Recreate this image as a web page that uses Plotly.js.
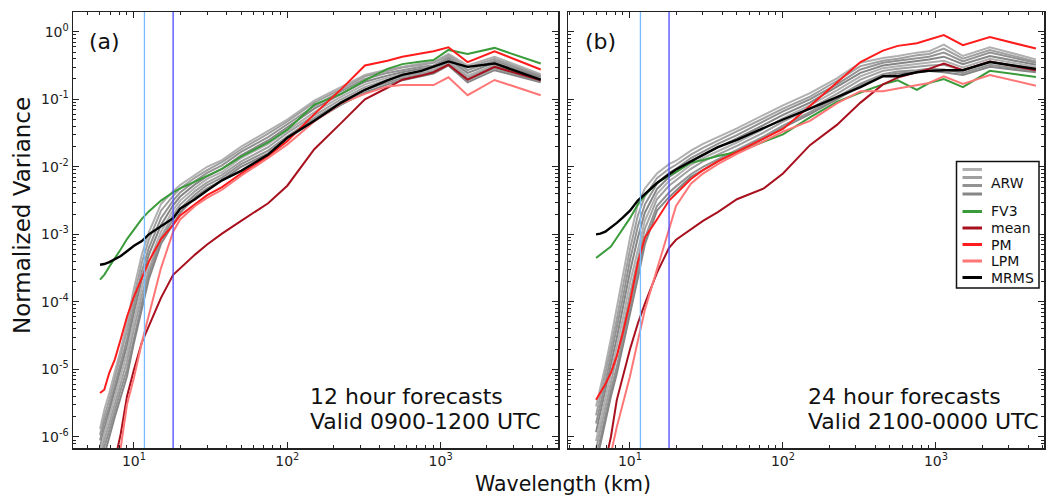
<!DOCTYPE html>
<html><head><meta charset="utf-8">
<script src="https://cdn.plot.ly/plotly-3.0.1.min.js"></script>
<style>html,body{margin:0;padding:0;background:#fff}#chart{width:1048px;height:498px}</style>
</head><body><div id="chart"></div>
<script>
// ---------------- DATA (values are log10 of normalized variance) ----------------
const wavelengthKm = [6, 6.4, 6.9, 7.5, 8.2, 9, 10, 11.25, 12.5, 15, 18, 20, 25, 30, 37.5, 50, 75, 100, 150, 225, 321, 450, 563, 750, 900, 1125, 1500, 2250, 4500];
const refScalesKm = [11.7, 18];
const panelLabels = ['(a)', '(b)'];
const panelText = [['12 hour forecasts', 'Valid 0900-1200 UTC'], ['24 hour forecasts', 'Valid 2100-0000 UTC']];
const legendNames = ['ARW', 'FV3', 'mean', 'PM', 'LPM', 'MRMS'];
const yTickExp = [-6, -5, -4, -3, -2, -1, 0];
const xTickExp = [1, 2, 3];

// Panel (a): 12 h forecasts
const arwA = [
  [-5.88,-5.60,-5.35,-5.05,-4.70,-4.30,-3.80,-3.30,-2.97,-2.55,-2.36,-2.27,-2.12,-2.00,-1.90,-1.70,-1.47,-1.30,-1.02,-0.82,-0.64,-0.56,-0.52,-0.47,-0.45,-0.33,-0.50,-0.37,-0.63],
  [-5.97,-5.70,-5.45,-5.13,-4.80,-4.42,-3.92,-3.42,-3.08,-2.65,-2.43,-2.32,-2.16,-2.05,-1.93,-1.74,-1.51,-1.33,-1.05,-0.85,-0.66,-0.58,-0.53,-0.49,-0.46,-0.35,-0.53,-0.40,-0.65],
  [-6.05,-5.78,-5.55,-5.25,-4.90,-4.55,-4.05,-3.55,-3.20,-2.76,-2.50,-2.38,-2.21,-2.09,-1.98,-1.78,-1.56,-1.37,-1.10,-0.88,-0.70,-0.61,-0.57,-0.52,-0.50,-0.38,-0.57,-0.43,-0.66],
  [-6.15,-5.88,-5.62,-5.32,-5.00,-4.65,-4.16,-3.66,-3.30,-2.86,-2.57,-2.44,-2.26,-2.14,-2.03,-1.83,-1.61,-1.42,-1.14,-0.92,-0.74,-0.65,-0.60,-0.55,-0.53,-0.41,-0.61,-0.46,-0.68],
  [-6.22,-5.95,-5.70,-5.40,-5.10,-4.76,-4.28,-3.78,-3.42,-2.96,-2.64,-2.50,-2.31,-2.18,-2.08,-1.87,-1.66,-1.46,-1.19,-0.96,-0.78,-0.68,-0.63,-0.58,-0.56,-0.43,-0.65,-0.49,-0.70],
  [-6.32,-6.05,-5.80,-5.50,-5.20,-4.88,-4.40,-3.90,-3.52,-3.04,-2.71,-2.56,-2.36,-2.23,-2.12,-1.92,-1.71,-1.50,-1.24,-1.00,-0.82,-0.71,-0.66,-0.61,-0.58,-0.45,-0.68,-0.51,-0.72],
  [-6.42,-6.15,-5.90,-5.60,-5.30,-5.00,-4.52,-4.02,-3.60,-3.08,-2.78,-2.62,-2.41,-2.27,-2.16,-1.96,-1.76,-1.55,-1.28,-1.04,-0.86,-0.75,-0.69,-0.64,-0.60,-0.48,-0.72,-0.54,-0.73],
  [-6.50,-6.25,-6.00,-5.70,-5.40,-5.10,-4.60,-4.10,-3.66,-3.14,-2.85,-2.68,-2.45,-2.32,-2.20,-2.00,-1.80,-1.58,-1.32,-1.08,-0.90,-0.78,-0.72,-0.66,-0.62,-0.50,-0.75,-0.57,-0.75]
];
const fv3A  = [-3.67,-3.60,-3.48,-3.36,-3.22,-3.07,-2.92,-2.77,-2.66,-2.50,-2.38,-2.32,-2.22,-2.13,-2.03,-1.85,-1.64,-1.45,-1.08,-0.92,-0.72,-0.55,-0.48,-0.44,-0.42,-0.27,-0.33,-0.24,-0.47];
const meanA = [-7.20,-6.90,-6.60,-6.35,-5.95,-5.40,-5.00,-4.60,-4.35,-3.94,-3.60,-3.50,-3.30,-3.15,-2.99,-2.80,-2.54,-2.28,-1.74,-1.35,-1.00,-0.83,-0.71,-0.65,-0.60,-0.49,-0.71,-0.52,-0.72];
const pmA   = [-5.35,-5.30,-5.05,-4.85,-4.55,-4.22,-3.92,-3.64,-3.40,-3.07,-2.86,-2.72,-2.55,-2.42,-2.30,-2.10,-1.84,-1.62,-1.22,-0.85,-0.50,-0.43,-0.37,-0.32,-0.29,-0.23,-0.45,-0.29,-0.56];
const lpmA  = [-7.50,-7.20,-6.90,-6.60,-6.15,-5.52,-5.12,-4.60,-4.20,-3.50,-2.96,-2.78,-2.58,-2.46,-2.34,-2.13,-1.87,-1.67,-1.33,-1.06,-0.92,-0.81,-0.79,-0.79,-0.79,-0.675,-0.94,-0.715,-0.94];
const mrmsA = [-3.45,-3.44,-3.41,-3.37,-3.32,-3.25,-3.17,-3.10,-3.00,-2.88,-2.76,-2.62,-2.48,-2.35,-2.20,-2.06,-1.82,-1.57,-1.32,-1.05,-0.86,-0.72,-0.64,-0.58,-0.52,-0.44,-0.52,-0.47,-0.71];

// Panel (b): 24 h forecasts
const arwB = [
  [-5.55,-5.28,-4.95,-4.55,-4.10,-3.62,-3.05,-2.55,-2.32,-2.10,-1.96,-1.91,-1.76,-1.66,-1.56,-1.43,-1.23,-1.09,-0.91,-0.69,-0.46,-0.39,-0.36,-0.31,-0.29,-0.19,-0.36,-0.23,-0.41],
  [-5.68,-5.40,-5.07,-4.68,-4.25,-3.78,-3.22,-2.72,-2.44,-2.17,-2.03,-1.97,-1.82,-1.72,-1.61,-1.48,-1.28,-1.14,-0.96,-0.73,-0.51,-0.43,-0.40,-0.35,-0.33,-0.25,-0.40,-0.27,-0.44],
  [-5.80,-5.53,-5.19,-4.80,-4.39,-3.93,-3.38,-2.88,-2.56,-2.25,-2.09,-2.03,-1.87,-1.77,-1.66,-1.53,-1.33,-1.18,-1.00,-0.78,-0.56,-0.46,-0.43,-0.39,-0.37,-0.31,-0.44,-0.31,-0.46],
  [-5.93,-5.65,-5.31,-4.93,-4.53,-4.08,-3.55,-3.05,-2.68,-2.33,-2.15,-2.08,-1.92,-1.82,-1.72,-1.58,-1.38,-1.23,-1.05,-0.82,-0.61,-0.50,-0.47,-0.44,-0.41,-0.37,-0.48,-0.36,-0.49],
  [-6.06,-5.77,-5.43,-5.06,-4.68,-4.24,-3.72,-3.21,-2.80,-2.40,-2.21,-2.14,-1.97,-1.87,-1.77,-1.64,-1.44,-1.28,-1.09,-0.87,-0.66,-0.54,-0.51,-0.48,-0.46,-0.43,-0.53,-0.40,-0.52],
  [-6.18,-5.90,-5.55,-5.18,-4.82,-4.39,-3.88,-3.38,-2.92,-2.48,-2.28,-2.20,-2.03,-1.92,-1.82,-1.69,-1.49,-1.33,-1.14,-0.92,-0.71,-0.58,-0.55,-0.52,-0.50,-0.49,-0.57,-0.44,-0.55],
  [-6.32,-6.02,-5.68,-5.31,-4.96,-4.55,-4.05,-3.55,-3.06,-2.58,-2.38,-2.29,-2.11,-2.00,-1.89,-1.75,-1.55,-1.39,-1.19,-0.97,-0.77,-0.63,-0.59,-0.57,-0.55,-0.56,-0.61,-0.49,-0.58],
  [-6.40,-6.10,-5.75,-5.40,-5.06,-4.65,-4.15,-3.65,-3.15,-2.65,-2.45,-2.35,-2.15,-2.05,-1.92,-1.78,-1.58,-1.42,-1.22,-1.00,-0.80,-0.66,-0.62,-0.60,-0.58,-0.60,-0.64,-0.52,-0.60]
];
const fv3B  = [-3.35,-3.30,-3.25,-3.18,-3.05,-2.92,-2.76,-2.56,-2.42,-2.24,-2.13,-2.08,-1.94,-1.90,-1.84,-1.78,-1.63,-1.52,-1.27,-1.04,-0.90,-0.78,-0.72,-0.86,-0.76,-0.70,-0.82,-0.58,-0.67];
const meanB = [-7.00,-6.70,-6.35,-6.00,-5.45,-5.08,-4.70,-4.32,-4.03,-3.57,-3.20,-3.08,-2.92,-2.80,-2.67,-2.48,-2.32,-2.10,-1.68,-1.38,-1.05,-0.78,-0.68,-0.60,-0.55,-0.47,-0.57,-0.44,-0.57];
const pmB   = [-5.45,-5.35,-5.22,-5.05,-4.80,-4.45,-4.00,-3.42,-3.05,-2.78,-2.50,-2.40,-2.18,-2.05,-1.92,-1.78,-1.58,-1.44,-1.10,-0.75,-0.45,-0.28,-0.21,-0.17,-0.12,-0.05,-0.20,-0.08,-0.25];
const lpmB  = [-7.30,-7.00,-6.70,-6.25,-5.85,-5.50,-5.10,-4.58,-4.12,-3.52,-2.90,-2.58,-2.25,-2.10,-1.96,-1.81,-1.62,-1.48,-1.32,-1.06,-0.88,-0.88,-0.84,-0.79,-0.76,-0.66,-0.775,-0.64,-0.80];
const mrmsB = [-3.00,-2.99,-2.96,-2.90,-2.83,-2.75,-2.65,-2.50,-2.40,-2.24,-2.11,-2.04,-1.92,-1.82,-1.71,-1.60,-1.42,-1.30,-1.14,-0.97,-0.82,-0.66,-0.66,-0.60,-0.58,-0.57,-0.57,-0.45,-0.55];

// ---------------- STYLE ----------------
const FONT = 'DejaVu Sans, Bitstream Vera Sans, sans-serif';
const grayShades = ['#b0b0b0', '#a0a0a0', '#939393', '#868686'];
const colFV3 = '#3a9b3a', colMean = '#a8101e', colPM = '#ff1c1c', colLPM = '#ff7676', colMRMS = '#000000';
const colRef = ['#78bcff', '#4b4bff'];
const W = 1048, H = 498;
const px = v => v / W, py = v => 1 - v / H;

const pow10 = arr => arr.map(v => Math.pow(10, v));
const traces = [];
function addPanel(xa, ya, arw, fv3, mean, pm, lpm, mrms) {
  arw.forEach((m, i) => traces.push({x: wavelengthKm, y: pow10(m), xaxis: xa, yaxis: ya, mode: 'lines',
    line: {color: grayShades[i % 4], width: 2}, showlegend: false, name: 'ARW'}));
  [[fv3, colFV3, 'FV3'], [mean, colMean, 'mean'], [pm, colPM, 'PM'], [lpm, colLPM, 'LPM'], [mrms, colMRMS, 'MRMS']]
    .forEach(([d, c, n]) => traces.push({x: wavelengthKm, y: pow10(d), xaxis: xa, yaxis: ya, mode: 'lines',
      line: {color: c, width: n === 'MRMS' ? 2.4 : 2}, showlegend: false, name: n}));
  refScalesKm.forEach((s, i) => traces.push({x: [s, s], y: [1e-9, 100], xaxis: xa, yaxis: ya, mode: 'lines',
    line: {color: colRef[i], width: 1.3}, showlegend: false, hoverinfo: 'skip'}));
}
addPanel('x', 'y', arwA, fv3A, meanA, pmA, lpmA, mrmsA);
addPanel('x2', 'y2', arwB, fv3B, meanB, pmB, lpmB, mrmsB);

const yTickVals = yTickExp.map(e => Math.pow(10, e));
const yTickText = yTickExp.map(e => '10<sup>' + e + '</sup>');
const xTickVals = xTickExp.map(e => Math.pow(10, e));
const xTickText = xTickExp.map(e => '10<sup>' + e + '</sup>');
const minorVals = [];
for (let e = -8; e <= 4; e++) for (let k = 2; k <= 9; k++) minorVals.push(k * Math.pow(10, e));

const axisCommon = {type: 'log', showgrid: false, zeroline: false, showline: true, linecolor: '#222', linewidth: 1.5,
  mirror: 'allticks', ticks: 'inside', ticklen: 6, tickwidth: 1, tickcolor: '#222',
  tickfont: {family: FONT, size: 14, color: '#222'}, tickmode: 'array',
  minor: {ticks: 'inside', ticklen: 3, tickwidth: 1, tickcolor: '#222', tickmode: 'array', tickvals: minorVals, showgrid: false}};

const yTop = 12, yBot = 448;
const yRange = [-6.163, 0.2916];
const layout = {
  width: W, height: H, margin: {l: 0, r: 0, t: 0, b: 0}, paper_bgcolor: '#fff', plot_bgcolor: '#fff',
  font: {family: FONT, color: '#222'}, showlegend: false,
  xaxis: Object.assign({}, axisCommon, {domain: [px(73), px(558)], range: [0.6021, 3.766], anchor: 'y', tickvals: xTickVals, ticktext: xTickText}),
  yaxis: Object.assign({}, axisCommon, {domain: [py(yBot), py(yTop)], range: yRange, anchor: 'x', tickvals: yTickVals, ticktext: yTickText}),
  xaxis2: Object.assign({}, axisCommon, {domain: [px(568), px(1044)], range: [0.5948, 3.706], anchor: 'y2', tickvals: xTickVals, ticktext: xTickText}),
  yaxis2: Object.assign({}, axisCommon, {domain: [py(yBot), py(yTop)], range: yRange, anchor: 'x2', tickvals: yTickVals, ticktext: yTickText, showticklabels: false}),
  annotations: [], shapes: []
};
const ann = (x, y, text, size, extra) => layout.annotations.push(Object.assign({xref: 'paper', yref: 'paper', x: px(x), y: py(y),
  text: text, showarrow: false, font: {family: FONT, size: size, color: '#111'}, xanchor: 'left', yanchor: 'middle'}, extra || {}));

// panel labels & text
ann(87, 41, panelLabels[0], 22);
ann(583, 41, panelLabels[1], 22);
ann(308, 396, panelText[0][0], 22);
ann(308, 421, panelText[0][1], 22);
ann(806, 396, panelText[1][0], 22);
ann(806, 421, panelText[1][1], 22);
// axis titles
ann(22, 216, 'Normalized Variance', 23, {textangle: -90, xanchor: 'center'});
ann(563, 484, 'Wavelength (km)', 20.5, {xanchor: 'center'});

// custom legend
layout.shapes.push({type: 'rect', xref: 'paper', yref: 'paper', x0: px(956.5), x1: px(1039), y0: py(288), y1: py(161.5),
  line: {color: '#111', width: 1.5}, fillcolor: '#fff', layer: 'above'});
const lx0 = px(962.5), lx1 = px(982);
[169.5, 177.5, 185.5, 194].forEach((y, i) => layout.shapes.push({type: 'line', xref: 'paper', yref: 'paper',
  x0: lx0, x1: lx1, y0: py(y), y1: py(y), line: {color: grayShades[i], width: 3}, layer: 'above'}));
ann(989, 183, legendNames[0], 14);
[[211.5, colFV3], [228, colMean], [244.5, colPM], [261, colLPM], [277.5, colMRMS]].forEach(([y, c], i) => {
  layout.shapes.push({type: 'line', xref: 'paper', yref: 'paper', x0: lx0, x1: lx1, y0: py(y), y1: py(y),
    line: {color: c, width: 3}, layer: 'above'});
  ann(989, y, legendNames[i + 1], 14);
});

Plotly.newPlot('chart', traces, layout, {displayModeBar: false, staticPlot: true});
</script></body></html>
